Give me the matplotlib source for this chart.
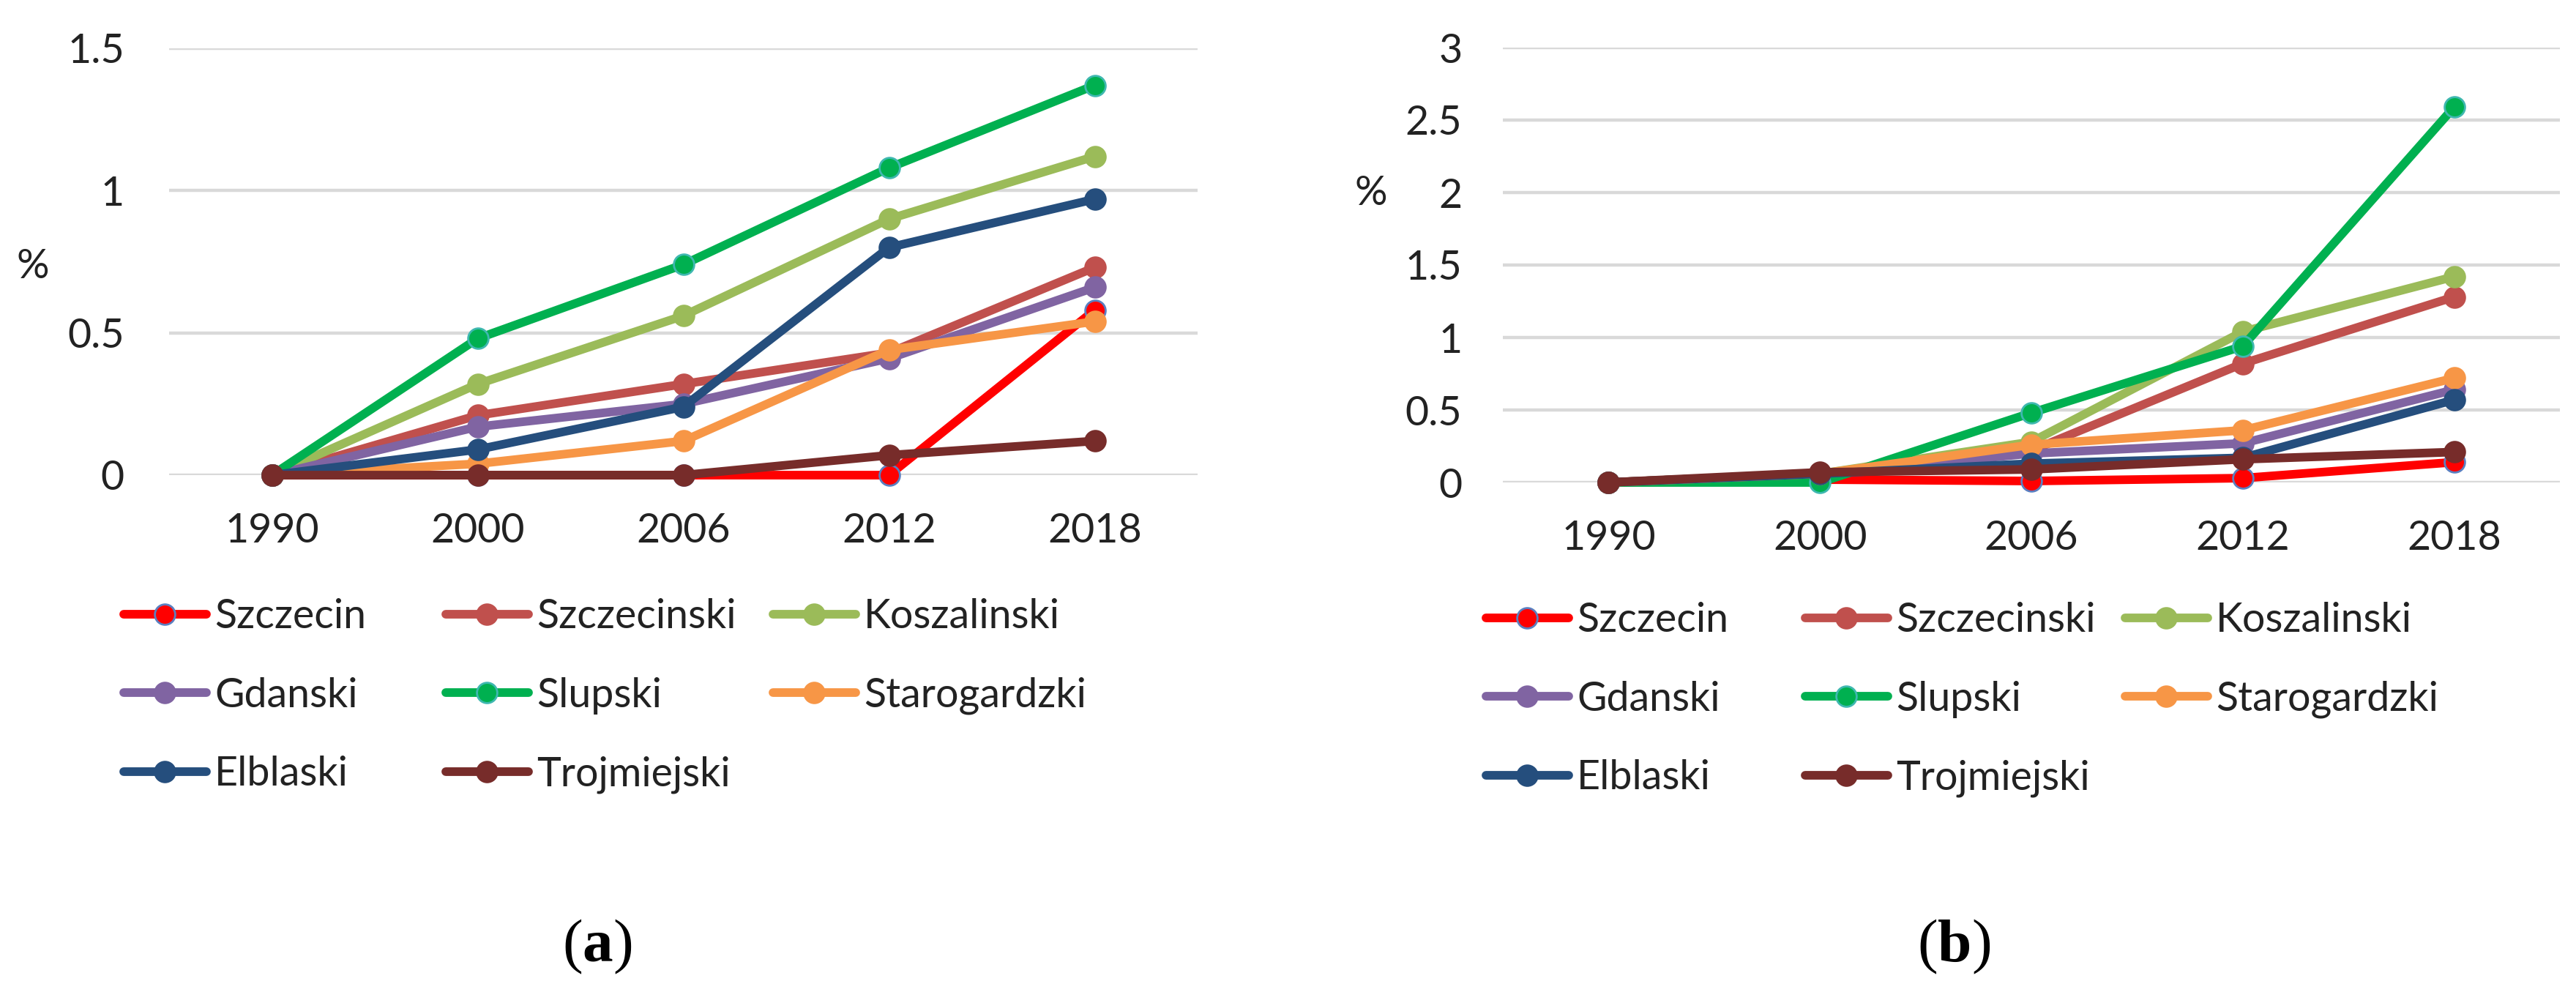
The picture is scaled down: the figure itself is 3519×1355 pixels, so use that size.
import numpy as np
import matplotlib
matplotlib.use("Agg")
import matplotlib.pyplot as plt

plt.rcParams['font.family'] = ['Lato', 'DejaVu Sans']
plt.rcParams['mathtext.fontset'] = 'custom'
plt.rcParams['mathtext.rm'] = 'Liberation Serif'
plt.rcParams['mathtext.bf'] = 'Liberation Serif:bold'

# Data
years = ['1990', '2000', '2006', '2012', '2018']
regions = ['Szczecin', 'Szczecinski', 'Koszalinski', 'Gdanski',
           'Slupski', 'Starogardzki', 'Elblaski', 'Trojmiejski']
colors = ['#FF0000', '#C0504D', '#9BBB59', '#8064A2',
          '#00B050', '#F79646', '#254E7D', '#772C2A']
edge_colors = ['#5B7FC0', '#C0504D', '#9BBB59', '#8064A2',
               '#3FB8B0', '#F79646', '#254E7D', '#772C2A']

# panel (a)
vals_a = {
    'Szczecin':     [0, 0, 0, 0, 0.58],
    'Szczecinski':  [0, 0.21, 0.32, 0.43, 0.73],
    'Koszalinski':  [0, 0.32, 0.56, 0.90, 1.12],
    'Gdanski':      [0, 0.17, 0.25, 0.41, 0.66],
    'Slupski':      [0, 0.48, 0.74, 1.08, 1.37],
    'Starogardzki': [0, 0.04, 0.12, 0.44, 0.54],
    'Elblaski':     [0, 0.09, 0.24, 0.80, 0.97],
    'Trojmiejski':  [0, 0, 0, 0.07, 0.12],
}
# panel (b)
vals_b = {
    'Szczecin':     [0, 0.02, 0.01, 0.03, 0.14],
    'Szczecinski':  [0, 0.06, 0.22, 0.82, 1.28],
    'Koszalinski':  [0, 0.06, 0.28, 1.04, 1.42],
    'Gdanski':      [0, 0.06, 0.20, 0.27, 0.64],
    'Slupski':      [0, 0.00, 0.48, 0.94, 2.59],
    'Starogardzki': [0, 0.06, 0.26, 0.36, 0.72],
    'Elblaski':     [0, 0.06, 0.13, 0.17, 0.57],
    'Trojmiejski':  [0, 0.07, 0.09, 0.16, 0.21],
}
yticks_a = [0, 0.5, 1, 1.5]
ytick_labels_a = ['0', '0.5', '1', '1.5']
yticks_b = [0, 0.5, 1, 1.5, 2, 2.5, 3]
ytick_labels_b = ['0', '0.5', '1', '1.5', '2', '2.5', '3']

W, H = 3519, 1355
fig = plt.figure(figsize=(W / 100, H / 100), dpi=100)

FS = 40
LW = 8.5
MS = 20


def setup(ax, vals, yticks, ylabels, ytop, ypad, xpad):
    x = np.arange(len(years))
    handles = {}
    for name, c, ec in zip(regions, colors, edge_colors):
        h, = ax.plot(x, vals[name], color=c, lw=LW, marker='o', ms=MS,
                     mfc=c, mec=ec, mew=2, clip_on=False,
                     solid_capstyle='round', label=name)
        handles[name] = h
    ax.set_xlim(-0.5, len(years) - 0.5)
    ax.set_ylim(0, ytop)
    ax.set_yticks(yticks)
    ax.set_yticklabels(ylabels)
    ax.set_xticks(x)
    ax.set_xticklabels(years)
    ax.tick_params(axis='both', length=0, labelsize=FS, colors='#222222')
    ax.tick_params(axis='y', pad=ypad)
    ax.tick_params(axis='x', pad=xpad)
    for s in ax.spines.values():
        s.set_visible(False)
    ax.grid(axis='y', color='#D9D9D9', lw=3.2)
    ax.set_axisbelow(True)
    return handles


def px_rect(x0, x1, ytop_px, ybot_px):
    return [x0 / W, 1 - ybot_px / H, (x1 - x0) / W, (ybot_px - ytop_px) / H]


ax1 = fig.add_axes(px_rect(231, 1636, 66, 649))
ax2 = fig.add_axes(px_rect(2053, 3497, 65, 659))

h1 = setup(ax1, vals_a, yticks_a, ytick_labels_a, 1.5, 44, 37)
h2 = setup(ax2, vals_b, yticks_b, ytick_labels_b, 3, 40, 37)

fig.text(45 / W, 1 - 364 / H, '%', fontsize=FS, ha='center', va='center', color='#222222')
fig.text(1873 / W, 1 - 265 / H, '%', fontsize=FS, ha='center', va='center', color='#222222')

# legends, one per column
columns = [['Szczecin', 'Gdanski', 'Elblaski'],
           ['Szczecinski', 'Slupski', 'Trojmiejski'],
           ['Koszalinski', 'Starogardzki']]


def add_legends(handles, col_x, top_y):
    for names, cx in zip(columns, col_x):
        leg = fig.legend([handles[n] for n in names], names,
                         loc='upper left', bbox_to_anchor=(cx / W, 1 - top_y / H),
                         frameon=False, fontsize=FS, handlelength=2.03,
                         handletextpad=0.2, labelspacing=1.02, borderpad=0,
                         borderaxespad=0, markerscale=1.0)
        for t in leg.get_texts():
            t.set_color('#222222')


add_legends(h1, [169, 609, 1056], 817)
add_legends(h2, [2030, 2466, 2903], 822)

# panel labels
fig.text(816 / W, 1 - 1293 / H, r'($\mathbf{a}$)', fontsize=60,
         family='Liberation Serif', ha='center', va='center')
fig.text(2669 / W, 1 - 1293 / H, r'($\mathbf{b}$)', fontsize=60,
         family='Liberation Serif', ha='center', va='center')

fig.savefig('out.png', dpi=100, facecolor='white')
